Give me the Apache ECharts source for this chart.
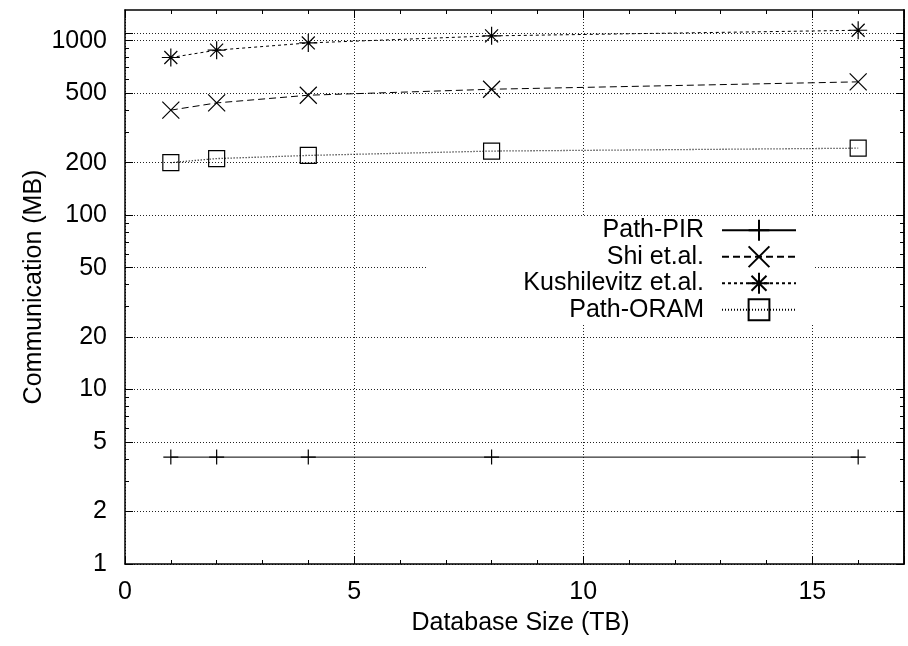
<!DOCTYPE html>
<html>
<head>
<meta charset="utf-8">
<script src="https://cdn.jsdelivr.net/npm/echarts@6/dist/echarts.min.js"></script>
<style>
  html, body { margin: 0; padding: 0; background: #fff; }
  #chart { width: 908px; height: 646px; }
</style>
</head>
<body>
<div id="chart"></div>
<script>
// database sizes (TB)
const sizes = [1, 2, 4, 8, 16];
// communication (MB)
const pathPir = [4.1, 4.1, 4.1, 4.1, 4.1];
const shi = [400, 440, 487, 527, 581];
const kushilevitz = [801, 883, 971, 1066, 1148];
const pathOram = [200, 211, 220, 233, 242];

const seriesNames = ['Path-PIR', 'Shi et.al.', 'Kushilevitz et.al.', 'Path-ORAM'];

// y ticks (gnuplot style log axis)
const yLabelTicks = [1, 2, 5, 10, 20, 50, 100, 200, 500, 1000];
const yMajorTicks = [1, 2, 5, 10, 20, 50, 100, 200, 500, 1000, 1100];
const yMinorTicks = [3, 4, 6, 7, 8, 9, 30, 40, 60, 70, 80, 90, 300, 400, 600, 700, 800, 900];

const font = 'Liberation Sans, Arial, Helvetica, sans-serif';
const black = '#000';
const borderLine = { show: true, lineStyle: { color: black, width: 1.5 } };
const gridLine = { show: true, lineStyle: { color: '#222', width: 1, type: [1, 2] } };

const symPlus = 'path://M0,-1L0,1M-1,0L1,0';
const symCross = 'path://M-1,-1L1,1M-1,1L1,-1';
const symStar = 'path://M0,-1L0,1M-1,0L1,0M-0.72,-0.72L0.72,0.72M-0.72,0.72L0.72,-0.72';
const symSquare = 'path://M-1,-1L1,-1L1,1L-1,1Z';

function makeSeries(name, values, symbol, size, dash, width) {
    return {
        name: name,
        type: 'line',
        data: sizes.map((x, i) => [x, values[i]]),
        symbol: symbol,
        symbolSize: size,
        showAllSymbol: true,
        lineStyle: { color: black, width: width, type: dash },
        itemStyle: { color: 'transparent', borderColor: black, borderWidth: 1.2 },
        emphasis: { disabled: true },
        z: 3
    };
}

function yAxisDef(position, ticks, len, withLabels) {
    return {
        type: 'log',
        logBase: 10,
        min: 1,
        max: 1500,
        position: position,
        axisLine: withLabels || position === 'right' ? borderLine : { show: false },
        axisTick: { show: true, inside: true, length: len, customValues: ticks, lineStyle: { color: black, width: 1 } },
        axisLabel: withLabels
            ? { show: true, customValues: yLabelTicks, margin: 18, fontSize: 25, color: black, fontFamily: font,
                formatter: v => String(v) }
            : { show: false },
        splitLine: withLabels ? gridLine : { show: false },
        minorTick: { show: false },
        name: withLabels ? 'Communication (MB)' : '',
        nameLocation: 'middle',
        nameGap: 78,
        nameMoveOverlap: false,
        nameTextStyle: { fontSize: 25, color: black, fontFamily: font }
    };
}

const chart = echarts.init(document.getElementById('chart'), null, { renderer: 'canvas' });

chart.setOption({
    animation: false,
    backgroundColor: '#fff',
    grid: { left: 125, right: 4, top: 10, bottom: 82, containLabel: false },
    xAxis: [
        {
            type: 'value', min: 0, max: 17, interval: 5, position: 'bottom',
            axisLine: borderLine,
            axisTick: { show: true, inside: true, length: 8, lineStyle: { color: black, width: 1 } },
            minorTick: { show: true, splitNumber: 5, length: 4, lineStyle: { color: black, width: 1 } },
            splitLine: gridLine,
            axisLabel: { margin: 16, fontSize: 25, color: black, fontFamily: font, showMaxLabel: false },
            name: 'Database Size (TB)',
            nameLocation: 'middle',
            nameGap: 47,
            nameTextStyle: { fontSize: 25, color: black, fontFamily: font, padding: [0, 0, 0, 12] }
        },
        {
            type: 'value', min: 0, max: 17, interval: 5, position: 'top',
            axisLine: borderLine,
            axisTick: { show: true, inside: true, length: 8, lineStyle: { color: black, width: 1 } },
            minorTick: { show: true, splitNumber: 5, length: 4, lineStyle: { color: black, width: 1 } },
            splitLine: { show: false },
            axisLabel: { show: false }
        }
    ],
    yAxis: [
        yAxisDef('left', yMajorTicks, 8, true),
        yAxisDef('left', yMinorTicks, 4, false),
        yAxisDef('right', yMajorTicks, 8, false),
        yAxisDef('right', yMinorTicks, 4, false)
    ],
    legend: {
        orient: 'vertical',
        align: 'right',
        right: 93,
        top: 217,
        padding: [0, 18, 0, 97],
        backgroundColor: '#fff',
        itemWidth: 74,
        itemHeight: 26,
        itemGap: 0,
        selectedMode: false,
        textStyle: { fontSize: 25, lineHeight: 26.5, color: black, fontFamily: font, padding: [0, 13, 0, 0] },
        data: seriesNames
    },
    series: [
        makeSeries(seriesNames[0], pathPir, symPlus, 15, 'solid', 1),
        makeSeries(seriesNames[1], shi, symCross, 17, [7, 4], 1),
        makeSeries(seriesNames[2], kushilevitz, symStar, 18, [3, 3], 1),
        makeSeries(seriesNames[3], pathOram, symSquare, 16, [1, 2], 1.3)
    ]
});
</script>
</body>
</html>
